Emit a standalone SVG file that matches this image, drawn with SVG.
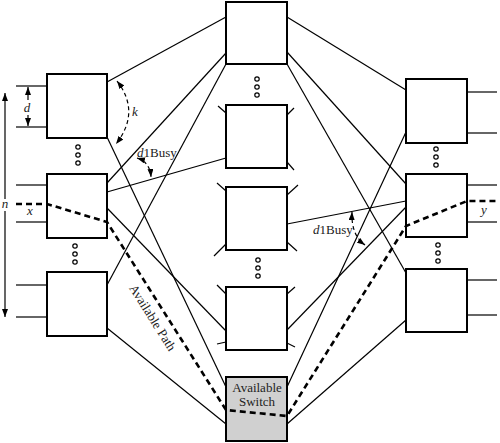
<svg xmlns="http://www.w3.org/2000/svg" width="500" height="443" viewBox="0 0 500 443">
<defs>
<style>
.box{fill:#fff;stroke:#000;stroke-width:2}
.sw{fill:#d0d0d0;stroke:#000;stroke-width:2}
.ln{stroke:#000;stroke-width:1.2;fill:none}
.dash{stroke:#000;stroke-width:2.6;stroke-dasharray:6,4;fill:none}
.arc{stroke:#000;stroke-width:1.2;stroke-dasharray:4,3;fill:none;marker-start:url(#ah);marker-end:url(#ah)}
.dot{fill:#fff;stroke:#000;stroke-width:1.2}
text{font-family:"Liberation Serif",serif;fill:#222;font-size:13px}
.it{font-style:italic}
</style>
<marker id="ah" viewBox="0 0 8 6" refX="8" refY="3" markerWidth="8" markerHeight="6" markerUnits="userSpaceOnUse" orient="auto-start-reverse">
<path d="M0,0 L8,3 L0,6 z" fill="#000"/>
</marker>
</defs>

<g id="L1">
<rect class="box" x="47" y="74" width="60" height="64"/>
<line class="ln" x1="16" y1="86" x2="47" y2="86"/>
<line class="ln" x1="16" y1="127" x2="47" y2="127"/>
</g>
<g id="L2">
<rect class="box" x="47" y="174" width="60" height="64"/>
<line class="ln" x1="16" y1="185" x2="47" y2="185"/>
<line class="ln" x1="16" y1="222" x2="47" y2="222"/>
</g>
<g id="L3">
<rect class="box" x="47" y="272" width="60" height="64"/>
<line class="ln" x1="16" y1="285" x2="47" y2="285"/>
<line class="ln" x1="16" y1="317" x2="47" y2="317"/>
</g>
<g id="C1">
<rect class="box" x="226" y="2" width="61" height="62"/>
</g>
<g id="C2">
<rect class="box" x="226" y="105" width="61" height="63"/>
<line class="ln" x1="218" y1="106" x2="226" y2="113"/>
<line class="ln" x1="287" y1="115" x2="294" y2="108"/>
<line class="ln" x1="287" y1="162" x2="294" y2="170"/>
</g>
<g id="C3">
<rect class="box" x="226" y="187" width="61" height="63"/>
<line class="ln" x1="217" y1="183" x2="226" y2="191"/>
<line class="ln" x1="287" y1="195" x2="298" y2="185"/>
<line class="ln" x1="214" y1="256" x2="226" y2="244"/>
<line class="ln" x1="287" y1="242" x2="297" y2="251"/>
</g>
<g id="C4">
<rect class="box" x="226" y="287" width="61" height="63"/>
<line class="ln" x1="217" y1="285" x2="226" y2="294"/>
<line class="ln" x1="287" y1="294" x2="295" y2="287"/>
<line class="ln" x1="217" y1="344" x2="226" y2="342"/>
<line class="ln" x1="287" y1="343" x2="295" y2="347"/>
</g>
<g id="C5">
<rect class="sw" x="226" y="377" width="61" height="64"/>
<text x="257" y="392" text-anchor="middle" font-size="12">Available</text>
<text x="257" y="406" text-anchor="middle" font-size="12">Switch</text>
</g>
<g id="R1">
<rect class="box" x="406" y="79" width="61" height="64"/>
<line class="ln" x1="467" y1="92" x2="497" y2="92"/>
<line class="ln" x1="467" y1="133" x2="497" y2="133"/>
</g>
<g id="R2">
<rect class="box" x="406" y="174" width="61" height="63"/>
<line class="ln" x1="467" y1="185" x2="497" y2="185"/>
<line class="ln" x1="467" y1="222" x2="497" y2="222"/>
</g>
<g id="R3">
<rect class="box" x="406" y="269" width="61" height="63"/>
<line class="ln" x1="467" y1="280" x2="497" y2="280"/>
<line class="ln" x1="467" y1="315" x2="497" y2="315"/>
</g>

<g id="dots">
<circle class="dot" cx="78" cy="147" r="2.2"/><circle class="dot" cx="78" cy="155" r="2.2"/><circle class="dot" cx="78" cy="163" r="2.2"/>
<circle class="dot" cx="75" cy="246" r="2.2"/><circle class="dot" cx="75" cy="254" r="2.2"/><circle class="dot" cx="75" cy="262" r="2.2"/>
<circle class="dot" cx="257" cy="79" r="2.2"/><circle class="dot" cx="257" cy="87" r="2.2"/><circle class="dot" cx="257" cy="95" r="2.2"/>
<circle class="dot" cx="258" cy="260" r="2.2"/><circle class="dot" cx="258" cy="268" r="2.2"/><circle class="dot" cx="258" cy="276" r="2.2"/>
<circle class="dot" cx="436" cy="149" r="2.2"/><circle class="dot" cx="436" cy="157" r="2.2"/><circle class="dot" cx="436" cy="165" r="2.2"/>
<circle class="dot" cx="438" cy="245" r="2.2"/><circle class="dot" cx="438" cy="253" r="2.2"/><circle class="dot" cx="438" cy="261" r="2.2"/>
</g>

<g id="connectors">
<line class="ln" x1="107" y1="82" x2="226" y2="17"/>
<line class="ln" x1="107" y1="137" x2="226" y2="387"/>
<line class="ln" x1="107" y1="183" x2="226" y2="53"/>
<line class="ln" x1="107" y1="192" x2="226" y2="158"/>
<line class="ln" x1="107" y1="208" x2="226" y2="331"/>
<line class="ln" x1="107" y1="285" x2="226" y2="64"/>
<line class="ln" x1="107" y1="328" x2="226" y2="424"/>
<line class="ln" x1="287" y1="17" x2="406" y2="90"/>
<line class="ln" x1="287" y1="52" x2="406" y2="184"/>
<line class="ln" x1="287" y1="64" x2="406" y2="273"/>
<line class="ln" x1="287" y1="224" x2="406" y2="201"/>
<line class="ln" x1="287" y1="330" x2="406" y2="207"/>
<line class="ln" x1="287" y1="387" x2="406" y2="132"/>
<line class="ln" x1="287" y1="424" x2="406" y2="320"/>
<path class="dash" d="M16,204 L47,204 L107,222 L226,410 L287,416 L406,226 L467,201 L497,201"/>
</g>

<g id="annotations">
<line class="ln" x1="5" y1="199" x2="5" y2="93" marker-end="url(#ah)"/>
<line class="ln" x1="5" y1="211" x2="5" y2="317" marker-end="url(#ah)"/>
<text class="it" x="5" y="208" text-anchor="middle" font-size="12">n</text>
<line class="ln" x1="28" y1="100" x2="28" y2="87" marker-end="url(#ah)"/>
<line class="ln" x1="28" y1="115" x2="28" y2="126" marker-end="url(#ah)"/>
<text class="it" x="27" y="112" text-anchor="middle" font-size="12">d</text>
<text class="it" x="30" y="215" text-anchor="middle" font-size="12">x</text>
<text class="it" x="484" y="214" text-anchor="middle" font-size="12">y</text>
<path class="arc" d="M117,81 Q141,112 116,144"/>
<text class="it" x="135" y="116" text-anchor="middle" font-size="12">k</text>
<path class="arc" d="M137,158 Q150,162 151,177"/>
<text x="137" y="157"><tspan class="it">d</tspan>1Busy</text>
<path class="arc" d="M352,212 Q351,235 365,245"/>
<text x="313" y="234"><tspan class="it">d</tspan>1Busy</text>
<text x="149" y="320" font-size="12" text-anchor="middle" transform="rotate(57.7 149 320)">Available Path</text>
</g>
</svg>
